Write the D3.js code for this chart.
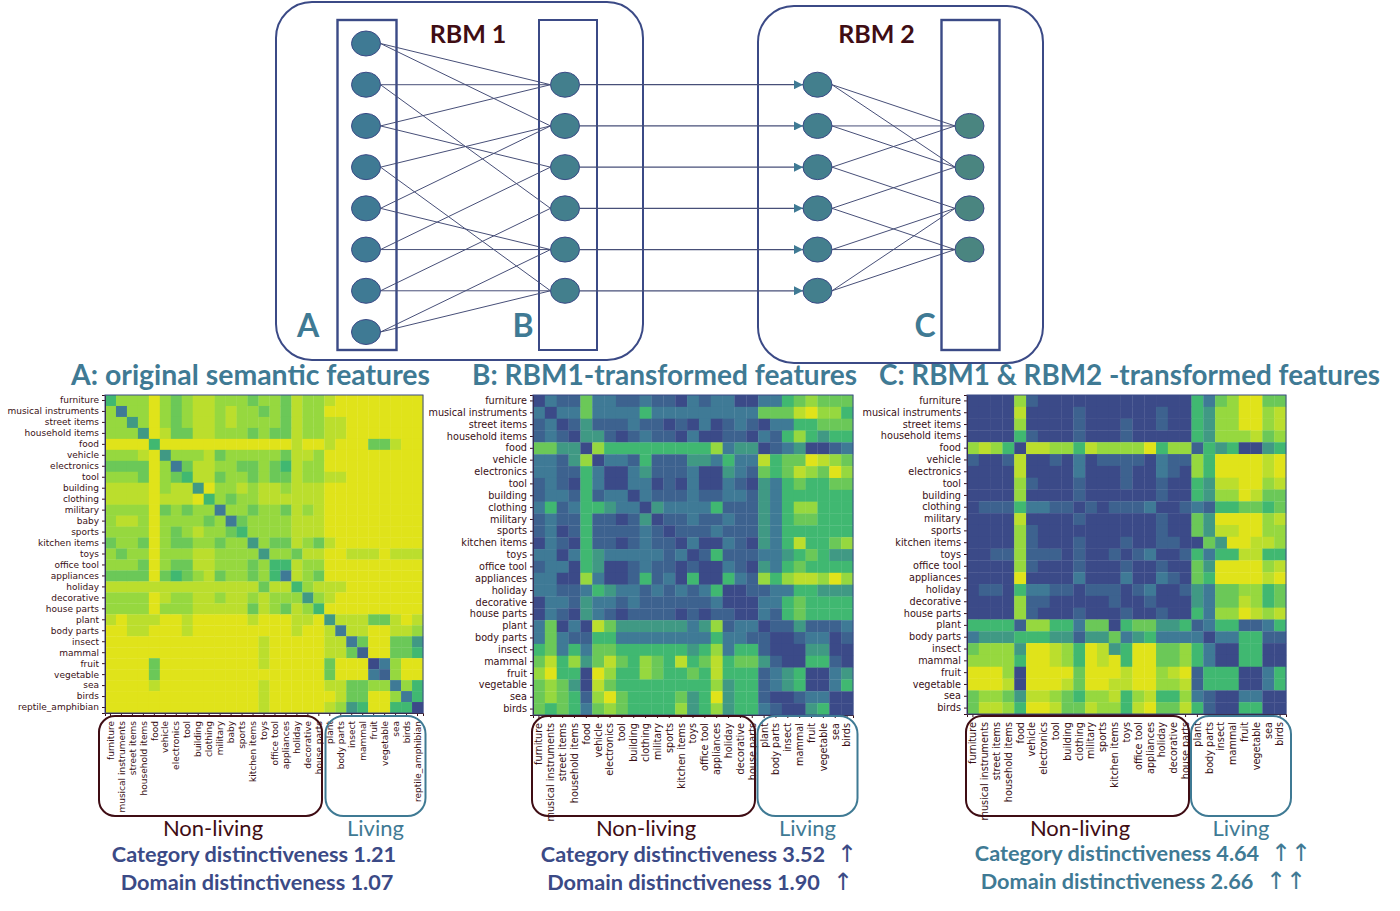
<!DOCTYPE html>
<html>
<head>
<meta charset="utf-8">
<script src="https://cdn.jsdelivr.net/npm/d3@7"></script>
<style>
  html, body { margin: 0; background: #fff; }
  svg { display: block; }
  .tick text { font-family: "DejaVu Sans"; fill: #3a1015; }
  .tick line, .domain { stroke: #3a1015; }
  .calibri { font-family: Lato; }
</style>
</head>
<body>
<div id="container"></div>
<script>
/* DATA */
const catsA = ["furniture","musical instruments","street items","household items","food","vehicle","electronics","tool","building","clothing","military","baby","sports","kitchen items","toys","office tool","appliances","holiday","decorative","house parts","plant","body parts","insect","mammal","fruit","vegetable","sea","birds","reptile_amphibian"];
const catsBC = catsA.filter(d => d !== "baby" && d !== "reptile_amphibian");

// upper triangles of the similarity matrices, one digit per cell starting at the diagonal
// 0 = dark blue ... 8 = yellow
const upperA = [
  "46668 65677 66656 65766 78888 8888",
  "26686 56776 76656 57668 88888 888",
  "36865 67767 66665 76677 88888 88",
  "38755 77666 56557 66778 88888 8",
  "48888 88888 88878 87888 55788",
  "36667 56666 65776 88888 8888",
  "25776 65565 47668 88888 888",
  "47756 65655 76677 88888 88",
  "38667 67767 77888 88888 8",
  "46566 77777 78888 88888",
  "26656 65767 88888 8888",
  "25666 67778 88888 888",
  "46666 77788 88888 88",
  "36557 65788 88888 8",
  "36657 78877 78777",
  "44766 88888 8888",
  "27658 88888 888",
  "46777 88888 88",
  "36788 88888 8",
  "48888 88888",
  "37775 5787",
  "27788 776",
  "25885 53",
  "18855 4",
  "02688",
  "1688",
  "264",
  "24",
  "0"
];
const upperB = [
  "02115 22112 11021 22002 24565 55",
  "02252 22242 22222 22255 57866 4",
  "01311 12110 10201 21022 44555",
  "03310 12110 20011 02146 4344",
  "06444 44444 46233 01230 012",
  "02214 11133 24227 45587 65",
  "00231 11200 32154 57658 6",
  "02201 02002 10324 54455",
  "02111 21122 13244 4444",
  "03222 24111 32466 444",
  "01121 12113 24554 44",
  "01112 11132 44444 4",
  "02002 10324 74456",
  "01411 12234 5433",
  "00210 32454 444",
  "04216 46776 86",
  "00112 24433 3",
  "00224 54444",
  "02145 4444",
  "01131 112",
  "00122 01",
  "00330 0",
  "04410",
  "0023",
  "024",
  "00",
  "0"
];
const upperC = [
  "00006 10000 00000 00004 25688 55",
  "00070 00010 00000 10043 66886 7",
  "00600 00100 01001 00436 68867",
  "04100 01000 10000 04366 6756",
  "07766 47666 68466 14340 034",
  "00102 01111 02116 48888 78",
  "00020 00100 21064 88887 8",
  "00100 01001 00437 78867",
  "01000 00010 04366 8755",
  "01011 12001 21445 545",
  "00000 01005 38888 67",
  "00000 10053 77886 6",
  "01001 10053 88776",
  "01200 14244 7744",
  "00100 53888 867",
  "02105 48888 78",
  "00132 55664 5",
  "00325 57645",
  "04266 8767",
  "12441 124",
  "02244 11",
  "00440 0",
  "04400",
  "0024",
  "024",
  "00",
  "0"
];

const layerA = d3.range(8), layerB = d3.range(1, 7), layerC = d3.range(2, 6);
const edgesRbm1 = [[0,1],[0,2],[1,1],[1,4],[2,1],[2,3],[3,2],[3,6],[4,2],[4,5],[5,3],[5,5],[6,4],[6,6],[7,5],[7,6]];
const edgesRbm2 = [[1,2],[1,3],[2,2],[2,3],[3,2],[3,4],[4,3],[4,5],[5,4],[5,5],[6,4],[6,5]];

const blue = "#3b4a86", teal = "#3f7a94", maroon = "#3f0d14", lineCol = "#474f78";

/* SVG */
const svg = d3.select("#container").append("svg").attr("width", 1400).attr("height", 911);

svg.append("defs").append("marker")
  .attr("id", "head").attr("viewBox", "0 0 10 10").attr("refX", 10).attr("refY", 5)
  .attr("markerUnits", "userSpaceOnUse").attr("markerWidth", 9).attr("markerHeight", 9).attr("orient", "auto")
  .append("path").attr("d", "M0,0L10,5L0,10Z").attr("fill", teal);

/* NETWORK */
const nodeY = d3.scaleLinear().domain([0, 7]).range([43.5, 332]);
const colX = { a: 366, b: 565, m: 817.5, c: 969.5 };
const rx = 14.5, ry = 12.5;

function frame(x, y, w, h, r, color, sw) {
  svg.append("rect").attr("x", x).attr("y", y).attr("width", w).attr("height", h).attr("rx", r)
    .attr("fill", "none").attr("stroke", color).attr("stroke-width", sw);
}
frame(276, 2, 367, 358, 36, blue, 2);
frame(758, 6, 285, 357, 36, blue, 2);
frame(337.5, 20, 59, 330, 0, blue, 2.4);
frame(539, 20, 58, 330, 0, blue, 2);
frame(941.5, 20, 58, 330, 0, blue, 2.4);

function links(edges, x1, x2) {
  svg.append("g").selectAll("line").data(edges).join("line")
    .attr("x1", x1).attr("x2", x2)
    .attr("y1", d => nodeY(d[0])).attr("y2", d => nodeY(d[1]))
    .attr("stroke", lineCol).attr("stroke-width", 1);
}
links(edgesRbm1, colX.a + rx, colX.b - rx);
links(edgesRbm2, colX.m + rx, colX.c - rx);

svg.append("g").selectAll("line").data(layerB).join("line")
  .attr("x1", colX.b + rx).attr("x2", colX.m - rx)
  .attr("y1", d => nodeY(d)).attr("y2", d => nodeY(d))
  .attr("stroke", lineCol).attr("stroke-width", 1.3)
  .attr("marker-end", "url(#head)");

function nodes(layer, cx, fill) {
  svg.append("g").selectAll("ellipse").data(layer).join("ellipse")
    .attr("cx", cx).attr("cy", d => nodeY(d)).attr("rx", rx).attr("ry", ry)
    .attr("fill", fill).attr("stroke", blue).attr("stroke-width", 1);
}
nodes(layerA, colX.a, teal);
nodes(layerB, colX.b, "#437f8d");
nodes(layerB, colX.m, "#437f8d");
nodes(layerC, colX.c, "#4a8580");

function label(txt, x, y, size, color, weight, anchor) {
  return svg.append("text").attr("class", "calibri").attr("x", x).attr("y", y)
    .attr("font-size", size).attr("fill", color).attr("font-weight", weight || 400)
    .attr("text-anchor", anchor || "middle").text(txt);
}
label("RBM 1", 468, 43, 25, maroon, 700);
label("RBM 2", 876.5, 43, 25, maroon, 700);
label("A", 308, 337, 32, teal, 700);
label("B", 523, 337, 32, teal, 700);
label("C", 925, 337, 32, teal, 700);

/* HEATMAPS */
const color = d3.scaleLinear()
  .domain([0, 2, 4, 6, 8])
  .range(["#3b4a88", "#3f7a96", "#40b871", "#96d83f", "#e0e31a"]);

function heatmap(x0, y0, size, cats, upper, fontSize) {
  const x = d3.scaleBand().domain(cats).range([x0, x0 + size]);
  const y = d3.scaleBand().domain(cats).range([y0, y0 + size]);
  const cells = [];
  upper.forEach((row, i) => {
    row.replace(/ /g, "").split("").forEach((v, k) => {
      const j = i + k;
      cells.push({ r: cats[i], c: cats[j], v: +v });
      if (j !== i) cells.push({ r: cats[j], c: cats[i], v: +v });
    });
  });
  const g = svg.append("g");
  g.selectAll("rect").data(cells).join("rect")
    .attr("x", d => x(d.c)).attr("y", d => y(d.r))
    .attr("width", x.bandwidth() + 0.3).attr("height", y.bandwidth() + 0.3)
    .attr("fill", d => color(d.v));

  g.append("g").attr("transform", `translate(${x0},0)`)
    .call(d3.axisLeft(y).tickSize(3).tickPadding(3))
    .selectAll(".tick text").attr("font-size", fontSize);
  const xa = g.append("g").attr("transform", `translate(0,${y0 + size})`)
    .call(d3.axisBottom(x).tickSize(3));
  xa.selectAll(".tick text")
    .attr("font-size", fontSize)
    .attr("transform", "rotate(-90)").attr("text-anchor", "end")
    .attr("x", -8).attr("y", 0).attr("dy", "0.35em");
  g.append("rect").attr("x", x0).attr("y", y0).attr("width", size).attr("height", size)
    .attr("fill", "none").attr("stroke", blue).attr("stroke-width", 1);
}
heatmap(105, 395, 318, catsA, upperA, 9);
heatmap(533, 395, 320, catsBC, upperB, 9.7);
heatmap(967, 395, 319, catsBC, upperC, 9.7);

/* TITLES */
label("A: original semantic features", 250.5, 385, 28, teal, 700).attr("textLength", 359).attr("lengthAdjust", "spacingAndGlyphs");
label("B: RBM1-transformed features", 664.5, 385, 28, teal, 700).attr("textLength", 385).attr("lengthAdjust", "spacingAndGlyphs");
label("C: RBM1 & RBM2 -transformed features", 1129.5, 385, 28, teal, 700).attr("textLength", 501).attr("lengthAdjust", "spacingAndGlyphs");

/* GROUP FRAMES */
const groups = [[99, 325.5], [532, 757.5], [966, 1191]];
groups.forEach(g => {
  frame(g[0], 716, 223, 100, 16, maroon, 2);
  frame(g[1], 716, 100, 100, 18, teal, 2);
  label("Non-living", g[0] + 114, 836, 22, maroon);
  label("Living", g[1] + 50, 836, 22, teal);
});

/* DISTINCTIVENESS */
const big = (txt, x, y, c) => label(txt, x, y, 21.7, c, 700);
big("Category distinctiveness 1.21", 254, 862, blue);
big("Domain distinctiveness 1.07", 257, 890, blue);
big("Category distinctiveness 3.52", 683, 862, blue);
big("Domain distinctiveness 1.90", 683.5, 890, blue);
big("Category distinctiveness 4.64", 1117, 861, teal);
big("Domain distinctiveness 2.66", 1117, 889, teal);

const arrow = (txt, x, y, c) => svg.append("text").attr("x", x).attr("y", y)
  .attr("font-family", "DejaVu Sans").attr("font-size", 24).attr("text-anchor", "middle")
  .attr("fill", c).text(txt);
arrow("↑", 847, 862, blue);
arrow("↑", 843, 890, blue);
arrow("↑↑", 1291, 861, teal);
arrow("↑↑", 1286, 889, teal);
</script>
</body>
</html>
